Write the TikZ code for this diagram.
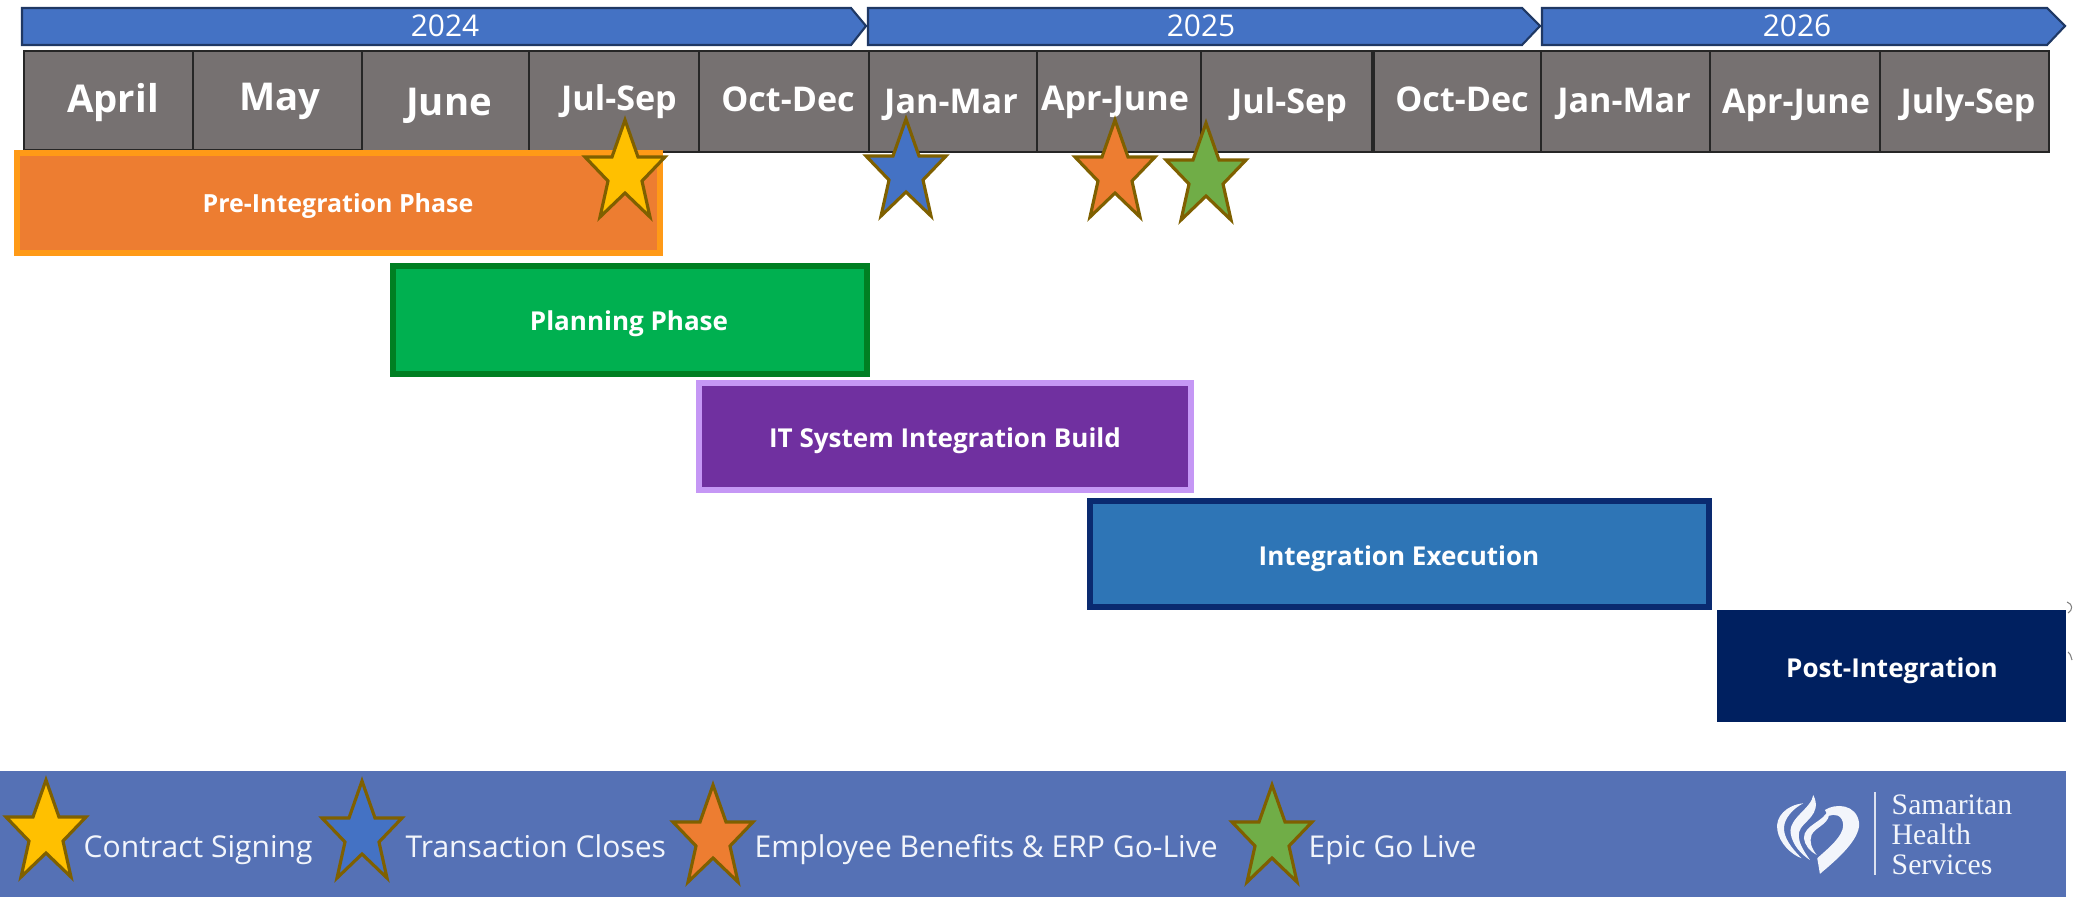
\documentclass[tikz,border=0pt]{standalone}
\usepackage{fontspec}
\setmainfont{Open Sans}
\newfontfamily\logofont{Liberation Serif}
\definecolor{yearBlue}{HTML}{4472C4}
\definecolor{yearEdge}{HTML}{1F3864}
\definecolor{cellGrey}{HTML}{767171}
\definecolor{cellEdge}{HTML}{262626}
\definecolor{preFill}{HTML}{ED7D31}
\definecolor{preEdge}{HTML}{FF9A17}
\definecolor{planFill}{HTML}{00B050}
\definecolor{planEdge}{HTML}{007F22}
\definecolor{buildFill}{HTML}{7030A0}
\definecolor{buildEdge}{HTML}{C597F5}
\definecolor{execFill}{HTML}{2E75B6}
\definecolor{execEdge}{HTML}{0A2A70}
\definecolor{postFill}{HTML}{002060}
\definecolor{bandBlue}{HTML}{5571B5}
\definecolor{starGold}{HTML}{FFC000}
\definecolor{starGreen}{HTML}{70AD47}
\definecolor{starEdge}{HTML}{7F6000}
\definecolor{logoWhite}{HTML}{F2F5FB}
\tikzset{
  yeararrow/.style={fill=yearBlue, draw=yearEdge, line width=0.6pt},
  yearlabel/.style={anchor=base, text=white, font=\fontsize{8.5}{10}\selectfont},
  monthcell/.style={fill=cellGrey, draw=cellEdge, line width=0.4pt},
  monthlabel/.style={anchor=base, text=white, font=\fontsize{10.9}{13}\selectfont\bfseries},
  quarterlabel/.style={anchor=base, text=white, font=\fontsize{9.7}{12}\selectfont\bfseries},
  phasebar/.style={line width=1.5pt},
  phaselabel/.style={anchor=base, text=white, font=\fontsize{7.4}{9}\selectfont\bfseries},
  legendlabel/.style={anchor=base west, inner sep=0pt, text=logoWhite, font=\fontsize{8.55}{10}\selectfont},
  milestar/.pic={
    \draw[fill=#1, draw=starEdge, line width=0.9pt, line join=miter, miter limit=8]
      (0,-48) -- (13,-11) -- (40,-11) -- (17,13) -- (25,49) -- (0,25)
      -- (-25,49) -- (-17,13) -- (-40,-11) -- (-13,-11) -- cycle;
  }
}
\begin{document}
\begin{tikzpicture}[x=0.01cm, y=-0.01cm]
\useasboundingbox (0,0) rectangle (2073,897);

% Year arrows
\draw[yeararrow] (22,8) -- (851,8) -- (866,26) -- (851,45) -- (22,45) -- cycle;
\node[yearlabel] (yeara) at (445,37) {2024};
\draw[yeararrow] (868,8) -- (1522,8) -- (1540,26) -- (1522,45) -- (868,45) -- cycle;
\node[yearlabel] (yearb) at (1201,37) {2025};
\draw[yeararrow] (1542,8) -- (2047,8) -- (2065,26) -- (2047,45) -- (1542,45) -- cycle;
\node[yearlabel] (yearc) at (1797,37) {2026};

% Month and quarter cells
\draw[monthcell] (24,51) rectangle (193,150);
\node[monthlabel] (april) at (113,112) {April};
\draw[monthcell] (193,51) rectangle (362,150);
\node[monthlabel] (may) at (280,110) {May};
\draw[monthcell] (362,51) rectangle (529,152);
\node[monthlabel] (june) at (449,115) {June};
\draw[monthcell] (529,51) rectangle (699,152);
\node[quarterlabel] (julseptwentyfour) at (619,110) {Jul-Sep};
\draw[monthcell] (699,51) rectangle (869,152);
\node[quarterlabel] (octdectwentyfour) at (788,111) {Oct-Dec};
\draw[monthcell] (869,51) rectangle (1037,152);
\node[quarterlabel] (janmartwentyfive) at (951,113) {Jan-Mar};
\draw[monthcell] (1037,51) rectangle (1201,152);
\node[quarterlabel] (aprjunetwentyfive) at (1115,110) {Apr-June};
\draw[monthcell] (1201,51) rectangle (1372,152);
\node[quarterlabel] (julseptwentyfive) at (1289,113) {Jul-Sep};
\draw[monthcell] (1374,51) rectangle (1541,152);
\node[quarterlabel] (octdectwentyfive) at (1462,111) {Oct-Dec};
\draw[monthcell] (1541,51) rectangle (1710,152);
\node[quarterlabel] (janmartwentysix) at (1624,112) {Jan-Mar};
\draw[monthcell] (1710,51) rectangle (1880,152);
\node[quarterlabel] (aprjunetwentysix) at (1796,113) {Apr-June};
\draw[monthcell] (1880,51) rectangle (2049,152);
\node[quarterlabel] (julysep) at (1968,113) {July-Sep};

% Phase bars
\draw[phasebar, fill=preFill, draw=preEdge] (17,153) rectangle (660,253);
\node[phaselabel, font=\fontsize{7.1}{9}\selectfont\bfseries] (preintegration) at (338,212) {Pre-Integration Phase};
\draw[phasebar, fill=planFill, draw=planEdge] (393,266) rectangle (867,374);
\node[phaselabel] (planning) at (629,330) {Planning Phase};
\draw[phasebar, fill=buildFill, draw=buildEdge] (699,383) rectangle (1191,490);
\node[phaselabel] (itbuild) at (945,447) {IT System Integration Build};
\draw[phasebar, fill=execFill, draw=execEdge] (1090,501) rectangle (1709,607);
\node[phaselabel] (execution) at (1399,565) {Integration Execution};
\fill[postFill] (1717,610) rectangle (2066,722);
\node[phaselabel] (postintegration) at (1892,677) {Post-Integration};

% Stars on the timeline
\pic (signstar) at (625,168) {milestar=starGold};
\pic (closestar) at (906,167) {milestar=yearBlue};
\pic (benefitstar) at (1115,168) {milestar=preFill};
\pic (epicstar) at (1206,171) {milestar=starGreen};

% Clipped marks at the right edge
\draw[gray, line width=0.3pt] (2067,602) .. controls (2073,604) and (2073,610) .. (2068,613);
\draw[gray, line width=0.3pt] (2068,652) .. controls (2071,654) and (2071,658) .. (2072,660);

% Legend band
\fill[bandBlue] (0,771) rectangle (2066,897);
\pic (legendsign) at (46,828) {milestar=starGold};
\node[legendlabel] (contract) at (83,857) {Contract Signing};
\pic (legendclose) at (362,829) {milestar=yearBlue};
\node[legendlabel] (transaction) at (405,857) {Transaction Closes};
\pic (legendbenefit) at (713,833) {milestar=preFill};
\node[legendlabel] (benefits) at (754,857) {Employee Benefits \& ERP Go-Live};
\pic (legendepic) at (1272,833) {milestar=starGreen};
\node[legendlabel] (epic) at (1308,857) {Epic Go Live};

% Logo
\begin{scope}[shift={(1760,780)}, x=0.00333cm, y=-0.00333cm]
\fill[logoWhite] (195,90) .. controls (225,70) and (290,70) .. (298,130) .. controls (300,180) and (230,240) .. (180,282) -- (172,235) .. controls (205,205) and (250,170) .. (250,135) .. controls (248,105) and (225,100) .. (205,108) -- cycle;
\fill[logoWhite] (130,70) .. controls (80,75) and (45,110) .. (52,150) .. controls (58,190) and (95,225) .. (125,235) .. controls (95,205) and (72,175) .. (72,145) .. controls (72,115) and (100,85) .. (130,70) -- cycle;
\fill[logoWhite] (160,45) .. controls (155,85) and (85,115) .. (92,160) .. controls (97,195) and (125,225) .. (150,240) .. controls (125,205) and (112,180) .. (118,155) .. controls (125,125) and (190,105) .. (160,45) -- cycle;
\fill[logoWhite] (205,88) .. controls (195,125) and (130,135) .. (132,175) .. controls (134,195) and (150,215) .. (170,225) .. controls (155,205) and (147,185) .. (155,165) .. controls (165,140) and (220,130) .. (205,88) -- cycle;
\end{scope}
\fill[logoWhite!85!bandBlue] (1874,792) rectangle (1876,875);
\node[anchor=north west, inner sep=0pt, align=left, text=logoWhite, font=\logofont\fontsize{8.45}{8.5}\selectfont] (logotext) at (1891,794) {Samaritan\\Health\\Services};
\end{tikzpicture}
\end{document}
